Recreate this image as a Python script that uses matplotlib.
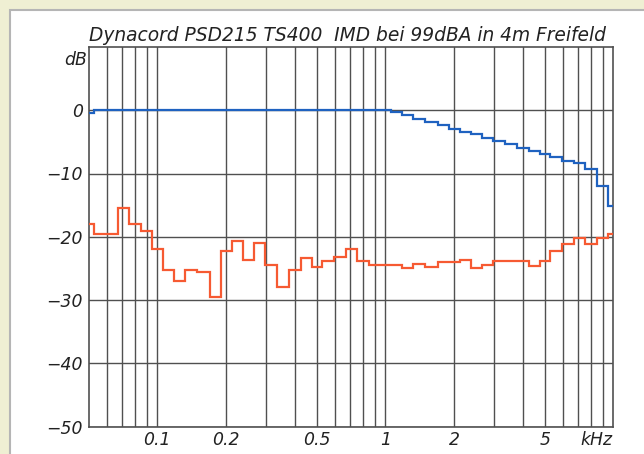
import numpy as np
import matplotlib.pyplot as plt
from matplotlib.patches import Rectangle

# 1/6-octave band centre frequencies in kHz
band_khz = [0.05, 0.056, 0.063, 0.071, 0.08, 0.09, 0.1, 0.112, 0.125, 0.14,
            0.16, 0.18, 0.2, 0.224, 0.25, 0.28, 0.315, 0.355, 0.4, 0.45,
            0.5, 0.56, 0.63, 0.71, 0.8, 0.9, 1.0, 1.12, 1.25, 1.4,
            1.6, 1.8, 2.0, 2.24, 2.5, 2.8, 3.15, 3.55, 4.0, 4.5,
            5.0, 5.6, 6.3, 7.1, 8.0, 9.0, 10.0]

# level (blue)
level_db = [-0.4, 0, 0, 0, 0, 0, 0, 0, 0, 0,
            0, 0, 0, 0, 0, 0, 0, 0, 0, 0,
            0, 0, 0, 0, 0, 0, 0, -0.3, -0.7, -1.4,
            -1.85, -2.3, -2.9, -3.4, -3.8, -4.4, -4.9, -5.35, -5.9, -6.5,
            -6.95, -7.4, -8.0, -8.3, -9.3, -12.0, -15.2]

# IMD (orange)
imd_db = [-18.0, -19.5, -19.6, -15.5, -18.0, -19.1, -21.9, -25.3, -27.0, -25.2,
          -25.5, -29.5, -22.3, -20.6, -23.6, -21.0, -24.4, -28.0, -25.3, -23.3,
          -24.8, -23.9, -23.2, -22.0, -23.9, -24.5, -24.5, -24.5, -24.9, -24.3,
          -24.8, -24.0, -24.0, -23.7, -24.9, -24.4, -23.9, -23.9, -23.9, -24.6,
          -23.9, -22.3, -21.2, -20.2, -21.2, -20.2, -19.5]

grid_khz = [0.06, 0.07, 0.08, 0.09, 0.1, 0.2, 0.3, 0.4, 0.5, 0.6, 0.7, 0.8, 0.9,
            1, 2, 3, 4, 5, 6, 7, 8, 9]
xlabels = {0.1: '0.1', 0.2: '0.2', 0.5: '0.5', 1: '1', 2: '2', 5: '5'}
yticks = [0, -10, -20, -30, -40, -50]

title = 'Dynacord PSD215 TS400  IMD bei 99dBA in 4m Freifeld'

f = np.array(band_khz)
mid = np.sqrt(f[:-1] * f[1:])
edges = np.concatenate(([f[0] ** 2 / mid[0]], mid, [f[-1] ** 2 / mid[-1]]))

plt.rcParams['font.family'] = ['DejaVu Sans']
plt.rcParams['font.style'] = 'italic'

W, H = 644, 454
fig = plt.figure(figsize=(W / 100, H / 100), dpi=100)
fig.patch.set_facecolor('#efefd3')
fig.patches.append(Rectangle((10 / W, -0.1), 1.2, 1.1 - 10 / H,
                             transform=fig.transFigure, facecolor='white',
                             edgecolor='#b5b5b5', linewidth=1.5, zorder=-10))

ax = fig.add_axes([88.7 / W, 1 - 426.5 / H, (613.5 - 88.7) / W, (426.5 - 47) / H])
ax.set_zorder(5)
ax.set_xscale('log')
ax.set_xlim(0.05, 10)
ax.set_ylim(-50, 10)

gc = '#505050'
tc = '#222222'
ax.set_xticks(grid_khz)
ax.set_xticklabels([xlabels.get(g, '') for g in grid_khz])
ax.xaxis.set_minor_locator(plt.NullLocator())
ax.set_yticks(yticks)
ax.set_yticklabels([('\u2212%d' % -v) if v < 0 else '0' for v in yticks])
ax.tick_params(length=0, labelsize=12.4, colors=tc)
ax.tick_params(axis='y', pad=4)
ax.tick_params(axis='x', pad=3)
ax.grid(True, color=gc, linewidth=1.0)
for s in ax.spines.values():
    s.set_color(gc)
    s.set_linewidth(1.2)

ax.stairs(level_db, edges, color='#1f62c0', linewidth=1.6, zorder=3)
ax.stairs(imd_db, edges, color='#f65a32', linewidth=1.6, zorder=3)

ax.text(-0.004, 0.99, 'dB', transform=ax.transAxes, ha='right', va='top',
        fontsize=12.4, color=tc)
ax.text(0.997, -0.012, 'kHz', transform=ax.transAxes, ha='right', va='top',
        fontsize=12.4, color=tc)
fig.text(347.5 / W, 1 - 41 / H, title, ha='center', va='baseline',
         fontsize=13.4, color=tc)

fig.savefig('out.png', dpi=100, facecolor=fig.get_facecolor())
